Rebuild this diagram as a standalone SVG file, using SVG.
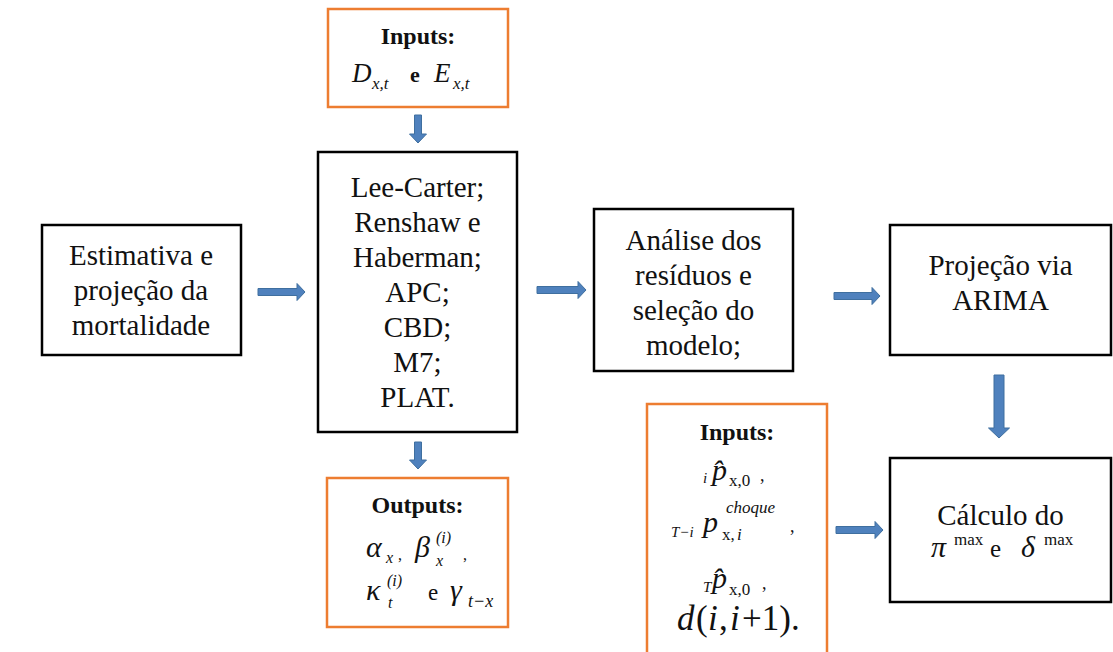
<svg xmlns="http://www.w3.org/2000/svg" width="1113" height="652" viewBox="0 0 1113 652">
<style>
.box{fill:#fff;stroke:#000;stroke-width:2.5}
.obox{fill:#fff;stroke:#ed7d31;stroke-width:2.5}
text{font-family:"Liberation Serif",Tinos,"Times New Roman",Times,"DejaVu Serif",serif;fill:#111}
.t{font-size:29px;text-anchor:middle}
.b{font-size:24px;font-weight:bold;text-anchor:middle}
.m{font-style:italic}
.c{text-anchor:middle}
.arr{fill:#4f81bd;stroke:#3f6f9f;stroke-width:1}
</style>
<rect width="1113" height="652" fill="#fff"/>

<g id="connectors">
<path class="arr" d="M258,288.5 H297 V283.5 L305,292 L297,300.5 V295.5 H258 Z"/>
<path class="arr" d="M537,286.5 H578 V281.5 L586,290 L578,298.5 V293.5 H537 Z"/>
<path class="arr" d="M834,292.5 H872 V287.5 L880,296 L872,304.5 V299.5 H834 Z"/>
<path class="arr" d="M836,526.5 H875 V521.5 L883,530 L875,538.5 V533.5 H836 Z"/>
<path class="arr" d="M414.5,115 V134 H409.5 L418,143 L426.5,134 H421.5 V115 Z"/>
<path class="arr" d="M414.5,442 V460 H409.5 L418,469 L426.5,460 H421.5 V442 Z"/>
<path class="arr" d="M994,375 V428 H988.5 L999,438 L1009.5,428 H1004 V375 Z"/>
</g>

<g id="node-estimativa">
<rect class="box" x="42" y="225" width="199" height="130"/>
<text class="t" x="141" y="265">Estimativa e</text>
<text class="t" x="141" y="300">projeção da</text>
<text class="t" x="141" y="335">mortalidade</text>
</g>

<g id="node-inputs-top">
<rect class="obox" x="328" y="9" width="180" height="98"/>
<text class="b" x="418" y="44">Inputs:</text>
<text class="m" x="352" y="82" font-size="27">D</text>
<text class="m" x="372" y="89" font-size="17">x,t</text>
<text x="410" y="82" font-size="22" font-weight="bold">e</text>
<text class="m" x="434" y="82" font-size="27">E</text>
<text class="m" x="453" y="89" font-size="17">x,t</text>
</g>

<g id="node-modelos">
<rect class="box" x="318" y="152" width="199" height="280"/>
<text class="t" x="417.5" y="197">Lee-Carter;</text>
<text class="t" x="417.5" y="232">Renshaw e</text>
<text class="t" x="417.5" y="267">Haberman;</text>
<text class="t" x="417.5" y="302">APC;</text>
<text class="t" x="417.5" y="337">CBD;</text>
<text class="t" x="417.5" y="372">M7;</text>
<text class="t" x="417.5" y="407">PLAT.</text>
</g>

<g id="node-outputs">
<rect class="obox" x="327" y="478" width="181" height="149"/>
<text class="b" x="417.5" y="513">Outputs:</text>
<text class="m" x="366" y="557" font-size="30">α</text>
<text class="m" x="386" y="563" font-size="16">x</text>
<text x="398" y="560" font-size="16">,</text>
<text class="m" x="415" y="557" font-size="30">β</text>
<text class="m" x="436" y="566" font-size="16">x</text>
<text class="m" x="436" y="543" font-size="16">(i)</text>
<text x="463" y="560" font-size="16">,</text>
<text class="m" x="366" y="600" font-size="30">κ</text>
<text class="m" x="388" y="608" font-size="16">t</text>
<text class="m" x="387" y="586" font-size="16">(i)</text>
<text x="428" y="600" font-size="23">e</text>
<text class="m" x="450" y="600" font-size="30">γ</text>
<text class="m" x="468" y="607" font-size="18">t−x</text>
</g>

<g id="node-analise">
<rect class="box" x="594" y="209" width="199" height="162"/>
<text class="t" x="693.5" y="250">Análise dos</text>
<text class="t" x="693.5" y="285">resíduos e</text>
<text class="t" x="693.5" y="320">seleção do</text>
<text class="t" x="693.5" y="355">modelo;</text>
</g>

<g id="node-inputs-bottom">
<rect class="obox" x="647" y="404" width="180" height="260"/>
<text class="b" x="737" y="440">Inputs:</text>
<text class="m" x="703" y="483" font-size="15">i</text>
<text class="m" x="712" y="480" font-size="30">p̂</text>
<text x="729" y="486" font-size="17">x,0</text>
<text x="760" y="481" font-size="18">,</text>
<text class="m" x="671" y="537" font-size="15">T−i</text>
<text class="m" x="703" y="532" font-size="30">p</text>
<text x="722" y="540" font-size="17">x,</text>
<text class="m" x="737" y="540" font-size="17">i</text>
<text class="m" x="726" y="513" font-size="17">choque</text>
<text x="790" y="532" font-size="18">,</text>
<text class="m" x="703" y="592" font-size="15">T</text>
<text class="m" x="712" y="588" font-size="30">p̂</text>
<text x="729" y="595" font-size="17">x,0</text>
<text x="762" y="589" font-size="18">,</text>
<text class="m" x="677" y="630" font-size="35">d</text>
<text x="696" y="630" font-size="35">(</text>
<text class="m" x="708" y="630" font-size="35">i</text>
<text x="719" y="630" font-size="35">,</text>
<text class="m" x="730" y="630" font-size="35">i</text>
<text x="742" y="630" font-size="35">+1).</text>
</g>

<g id="node-arima">
<rect class="box" x="890" y="225" width="221" height="130"/>
<text class="t" x="1000.5" y="275">Projeção via</text>
<text class="t" x="1000.5" y="310">ARIMA</text>
</g>

<g id="node-calculo">
<rect class="box" x="890" y="458" width="221" height="144"/>
<text class="t" x="1000.5" y="525">Cálculo do</text>
<text class="m" x="931" y="557" font-size="30">π</text>
<text x="954" y="545" font-size="17">max</text>
<text x="990" y="557" font-size="25">e</text>
<text class="m" x="1021" y="557" font-size="30">δ</text>
<text x="1044" y="545" font-size="17">max</text>
</g>
</svg>
